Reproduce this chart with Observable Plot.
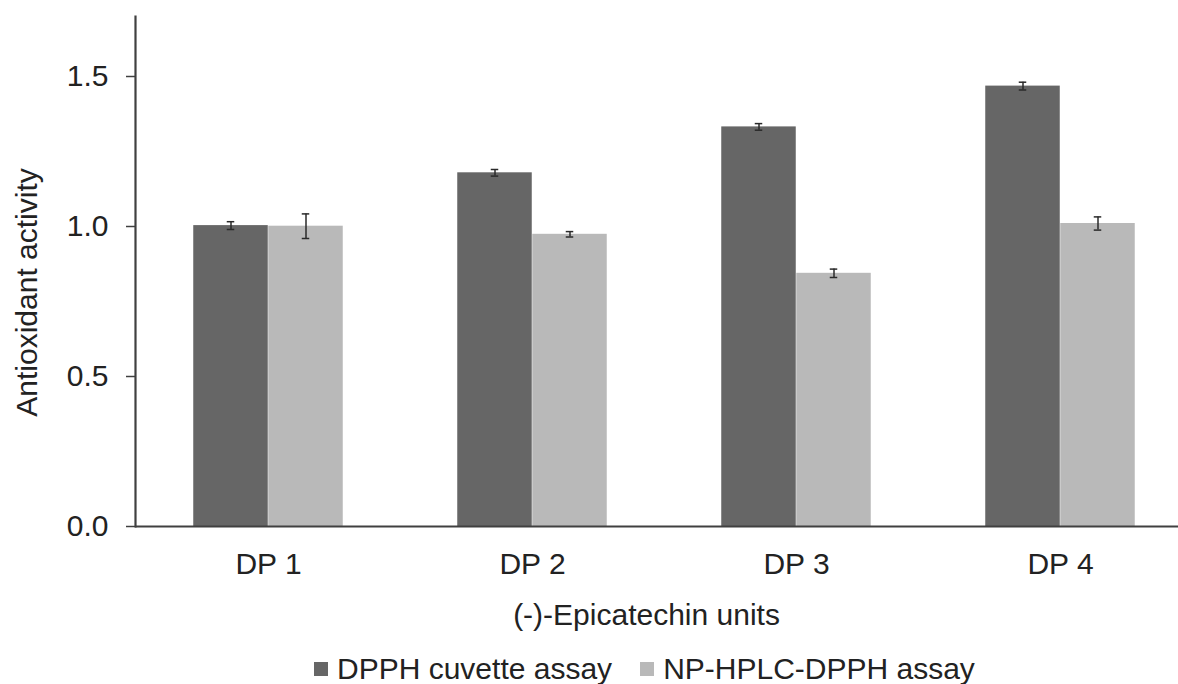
<!DOCTYPE html>
<html>
<head>
<meta charset="utf-8">
<script src="https://cdn.jsdelivr.net/npm/d3@7"></script>
<script src="https://cdn.jsdelivr.net/npm/@observablehq/plot@0.6"></script>
<style>
  html, body { margin: 0; padding: 0; background: white; overflow: hidden; }
  #chart { width: 1178px; height: 684px; position: relative; font-family: 'Liberation Sans', Arial, sans-serif; color: #222; }
  #legend { margin-top: 7px; margin-left: 314px; height: 44px; display: flex; align-items: center; }
  #legend .lg-swatches { font-family: 'Liberation Sans', Arial, sans-serif; font-size: 30px; color: #222; margin: 0; min-height: 0; }
  #legend .lg-swatch { margin-right: 28px; }
  #legend .lg-swatch:last-child { margin-right: 0; }
  #legend .lg-swatch > svg { margin-right: 9px; }
</style>
</head>
<body>
<div id="chart"></div>
<script>
const categories = ["DP 1", "DP 2", "DP 3", "DP 4"];
const seriesNames = ["DPPH cuvette assay", "NP-HPLC-DPPH assay"];
const cuvetteValues = [1.003, 1.179, 1.332, 1.468];
const cuvetteErrors = [0.013, 0.011, 0.011, 0.013];
const hplcValues = [1.001, 0.974, 0.844, 1.010];
const hplcErrors = [0.041, 0.009, 0.014, 0.022];
const yTicks = [0, 0.5, 1.0, 1.5];
const xTitle = "(-)-Epicatechin units";
const yTitle = "Antioxidant activity";
const seriesColors = ["#666666", "#b9b9b9"];

const cuvette = categories.map((c, i) => ({category: c, series: seriesNames[0], value: cuvetteValues[i], error: cuvetteErrors[i]}));
const hplc = categories.map((c, i) => ({category: c, series: seriesNames[1], value: hplcValues[i], error: hplcErrors[i]}));

// band geometry (px): band 264.5, bars 75 wide each, group centered
const BW = 264.5, BAR = 75, OUT = (BW - 2 * BAR) / 2, CAP = 4;
const axisColor = "#404040";
const errColor = "#2a2a2a";

function errorMarks(data, side) {
  const center = side === 0 ? OUT + BAR / 2 : OUT + BAR * 1.5;
  const off = center - BW / 2;
  return [
    Plot.ruleX(data, {x: "category", y1: d => d.value - d.error, y2: d => d.value + d.error, dx: off, stroke: errColor, strokeWidth: 1.5}),
    Plot.tickY(data, {x: "category", y: d => d.value + d.error, insetLeft: center - CAP, insetRight: BW - center - CAP, stroke: errColor, strokeWidth: 1.5}),
    Plot.tickY(data, {x: "category", y: d => d.value - d.error, insetLeft: center - CAP, insetRight: BW - center - CAP, stroke: errColor, strokeWidth: 1.5})
  ];
}

const plot = Plot.plot({
  width: 1178,
  height: 640,
  marginTop: 16,
  marginBottom: 114,
  marginLeft: 135,
  marginRight: 0,
  style: {fontFamily: "'Liberation Sans', Arial, sans-serif", fontSize: "30px", color: "#222", background: "white", overflow: "visible"},
  x: {domain: categories, range: [135, 135 + 4 * BW], padding: 0, axis: null},
  y: {domain: [0, 1.7], axis: null},
  color: {domain: seriesNames, range: seriesColors},
  marks: [
    Plot.barY(cuvette, {x: "category", y: "value", fill: "series", insetLeft: OUT, insetRight: OUT + BAR}),
    Plot.barY(hplc, {x: "category", y: "value", fill: "series", insetLeft: OUT + BAR, insetRight: OUT}),
    ...errorMarks(cuvette, 0),
    ...errorMarks(hplc, 1),
    Plot.axisY({ticks: yTicks, tickFormat: d3.format(".1f"), tickSize: 9, tickPadding: 18, stroke: axisColor, strokeWidth: 1.5, label: null, fontSize: 30}),
    Plot.axisX({tickSize: 0, tickPadding: 26, label: null, fontSize: 30}),
    Plot.frame({anchor: "left", stroke: axisColor, strokeWidth: 2.2}),
    Plot.ruleY([0], {stroke: axisColor, strokeWidth: 2.2}),
    Plot.text([yTitle], {text: d => d, frameAnchor: "left", textAnchor: "middle", rotate: -90, dx: -108, dy: 21, fontSize: 30, fill: "#222"}),
    Plot.text([xTitle], {text: d => d, frameAnchor: "bottom", textAnchor: "middle", lineAnchor: "top", dx: -10.5, dy: 77, fontSize: 30, fill: "#222"})
  ]
});

const chart = document.getElementById("chart");
chart.appendChild(plot);
const legendWrap = document.createElement("div");
legendWrap.id = "legend";
legendWrap.appendChild(plot.legend("color", {className: "lg", swatchWidth: 14, swatchHeight: 14}));
chart.appendChild(legendWrap);
</script>
</body>
</html>
